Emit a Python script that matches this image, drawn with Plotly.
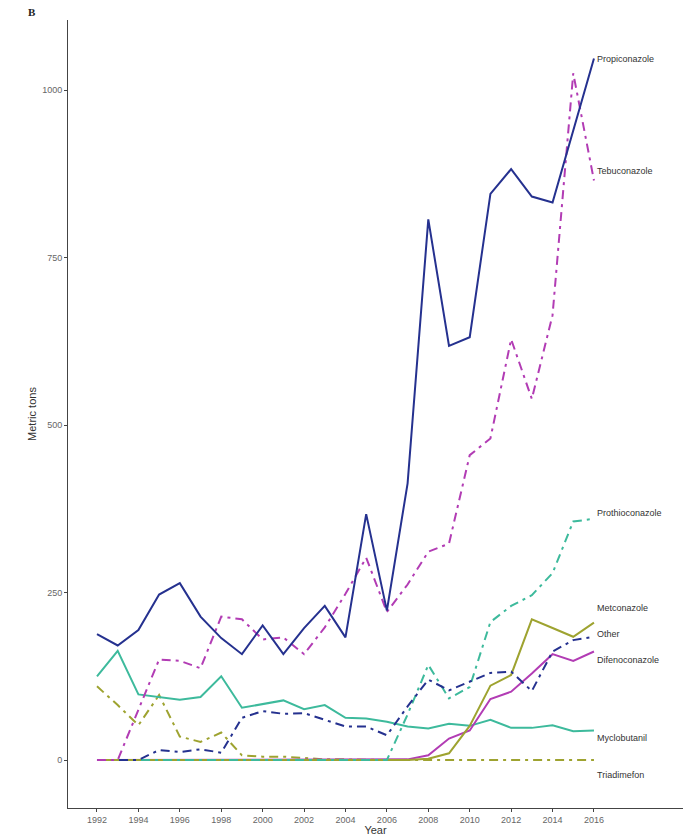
import plotly.graph_objects as go

# Annual fungicide use (metric tons), 1992-2016
years = list(range(1992, 2017))

propiconazole = [188, 171, 194, 247, 264, 214, 182, 158, 201, 158, 197, 230, 183,
                 367, 223, 413, 807, 618, 631, 845, 882, 841, 832, 938, 1047]
tebuconazole = [0, 0, 75, 150, 148, 137, 214, 210, 180, 183, 158, 198, 248,
                302, 221, 262, 311, 323, 455, 480, 628, 539, 664, 1025, 865]
prothioconazole = [0, 0, 0, 0, 0, 0, 0, 0, 0, 0, 0, 0, 0,
                   0, 0, 68, 142, 92, 109, 206, 230, 246, 279, 356, 360]
metconazole = [0, 0, 0, 0, 0, 0, 0, 0, 0, 0, 0, 0, 0,
               0, 0, 0, 2, 10, 51, 111, 127, 210, 197, 184, 205]
other = [0, 0, 0, 15, 12, 16, 11, 63, 73, 69, 70, 60, 50,
         50, 37, 80, 120, 104, 117, 130, 132, 103, 162, 179, 184]
difenoconazole = [0, 0, 0, 0, 0, 0, 0, 0, 0, 0, 0, 0, 0,
                  0, 0, 1, 7, 32, 44, 91, 102, 129, 158, 148, 162]
myclobutanil = [125, 163, 98, 94, 90, 94, 125, 78, 84, 89, 76, 82, 63,
                62, 57, 50, 47, 54, 51, 60, 48, 48, 52, 43, 44]
triadimefon = [110, 82, 52, 97, 35, 27, 41, 7, 5, 5, 3, 1, 1,
               0, 0, 0, 0, 0, 0, 0, 0, 0, 0, 0, 0]

x_ticks = list(range(1992, 2017, 2))
y_ticks = [0, 250, 500, 750, 1000]

NAVY = "#25318F"
MAGENTA = "#B23CB4"
TEAL = "#3DBA9C"
OLIVE = "#9EA330"
DOTDASH = "9px,5px,3px,5px"

# name, values, colour, dash, label vertical nudge (px)
series = [
    ("Triadimefon", triadimefon, OLIVE, DOTDASH, -15),
    ("Myclobutanil", myclobutanil, TEAL, "solid", -7),
    ("Difenoconazole", difenoconazole, MAGENTA, "solid", -9),
    ("Metconazole", metconazole, OLIVE, "solid", 15),
    ("Prothioconazole", prothioconazole, TEAL, DOTDASH, 6),
    ("Other", other, NAVY, DOTDASH, 3),
    ("Tebuconazole", tebuconazole, MAGENTA, DOTDASH, 9),
    ("Propiconazole", propiconazole, NAVY, "solid", 0),
]

fig = go.Figure()
annotations = []
for name, vals, color, dash, nudge in series:
    fig.add_trace(go.Scatter(
        x=years, y=vals, mode="lines", name=name,
        line=dict(color=color, width=2, dash=dash),
        showlegend=False,
    ))
    annotations.append(dict(
        x=years[-1], y=vals[-1], xref="x", yref="y",
        text=name, showarrow=False, xanchor="left", yanchor="middle",
        xshift=1, yshift=nudge,
        font=dict(family="Liberation Sans, Arial, sans-serif", size=9, color="#333333"),
    ))

annotations.append(dict(
    x=-0.058, y=1.01, xref="paper", yref="paper", text="<b>B</b>",
    showarrow=False, xanchor="center", yanchor="middle",
    font=dict(family="Liberation Serif, DejaVu Serif, serif", size=11, color="#222222"),
))

fig.update_layout(
    width=687, height=836,
    margin=dict(l=68, r=4, t=20, b=28),
    paper_bgcolor="white", plot_bgcolor="white",
    annotations=annotations,
    font=dict(family="Liberation Sans, Arial, sans-serif"),
)

fig.update_xaxes(
    range=[1990.6, 2020.3], tickvals=x_ticks, ticktext=[str(t) for t in x_ticks],
    showgrid=False, zeroline=False, showline=True, linecolor="#444444", linewidth=1,
    ticks="outside", ticklen=3, tickcolor="#444444",
    tickfont=dict(size=9, color="#666666"),
    title=dict(text="Year", font=dict(size=11, color="#333333"), standoff=0),
    automargin=False,
)
fig.update_yaxes(
    range=[-71.6, 1104.5], tickvals=y_ticks, ticktext=[str(t) for t in y_ticks],
    showgrid=False, zeroline=False, showline=True, linecolor="#444444", linewidth=1,
    ticks="outside", ticklen=3, tickcolor="#444444",
    tickfont=dict(size=9, color="#666666"),
    title=dict(text="Metric tons", font=dict(size=11, color="#333333"), standoff=3),
    automargin=False,
)

fig.write_html("out.html")
